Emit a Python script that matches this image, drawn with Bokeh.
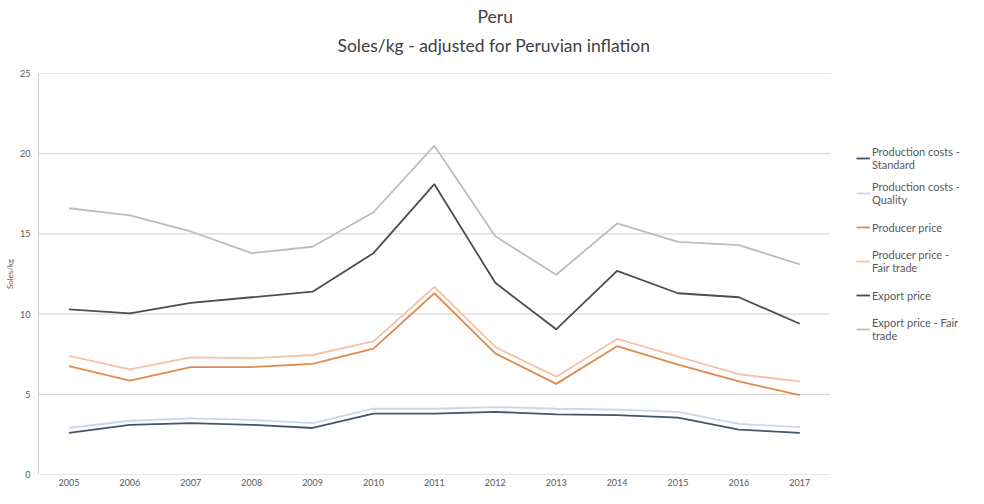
from bokeh.plotting import figure
from bokeh.models import Legend, LegendItem, Title, FixedTicker, Range1d
from bokeh.embed import file_html
from bokeh.resources import INLINE

years = ["2005", "2006", "2007", "2008", "2009", "2010", "2011", "2012", "2013", "2014", "2015", "2016", "2017"]
pc_standard = [2.6, 3.1, 3.2, 3.1, 2.9, 3.8, 3.8, 3.9, 3.75, 3.7, 3.55, 2.8, 2.6]
pc_quality = [2.9, 3.35, 3.5, 3.4, 3.2, 4.1, 4.1, 4.2, 4.1, 4.05, 3.9, 3.15, 2.95]
producer = [6.75, 5.85, 6.7, 6.7, 6.9, 7.85, 11.3, 7.55, 5.65, 8.0, 6.85, 5.8, 4.95]
producer_ft = [7.4, 6.55, 7.3, 7.25, 7.45, 8.3, 11.7, 7.95, 6.1, 8.45, 7.35, 6.25, 5.8]
export = [10.3, 10.05, 10.7, 11.05, 11.4, 13.8, 18.1, 11.95, 9.05, 12.7, 11.3, 11.05, 9.4]
export_ft = [16.6, 16.15, 15.15, 13.8, 14.2, 16.35, 20.5, 14.85, 12.45, 15.65, 14.5, 14.3, 13.1]
y_ticks = [0, 5, 10, 15, 20, 25]

series_names = ["Production costs -\nStandard", "Production costs -\nQuality", "Producer price",
                "Producer price -\nFair trade", "Export price", "Export price - Fair\ntrade"]
series_values = [pc_standard, pc_quality, producer, producer_ft, export, export_ft]
series_colors = ["#44546A", "#C9D6EC", "#E08A4E", "#F6C2A4", "#4D4D4D", "#BDBDBD"]

FONT = "Lato"
TXT = "#595959"
GRID = "#D0D0D0"

xpos = list(range(len(years)))
x_lo = -0.5
x_hi = len(years) - 0.5

p = figure(width=968, height=488, x_range=Range1d(x_lo, 14.77),
           y_range=Range1d(0, 25), output_backend="svg", toolbar_location=None,
           min_border_left=38, min_border_right=0, min_border_top=0, min_border_bottom=0)

p.title.text = "Peru"
p.title.text_font = FONT
p.title.text_font_size = "17.5px"
p.title.text_font_style = "normal"
p.title.text_color = "#404040"
p.title.align = "left"
p.title.offset = 439
p.title.standoff = 7
# small blank spacer between the subtitle and the plot area (nearest the frame)
p.add_layout(Title(text=" ", text_font=FONT, text_font_size="1px", standoff=12), "above")
p.add_layout(Title(text="Soles/kg - adjusted for Peruvian inflation", text_font=FONT,
                   text_font_size="17.5px", text_font_style="normal",
                   text_color="#404040", align="left", offset=299, standoff=5), "above")

# horizontal gridlines limited to the category area
p.segment(x0=[x_lo] * len(y_ticks), x1=[x_hi] * len(y_ticks), y0=y_ticks, y1=y_ticks,
          line_color=GRID, line_width=1)

items = []
for name, vals, col in zip(series_names, series_values, series_colors):
    r = p.line(xpos, vals, line_color=col, line_width=1.8)
    items.append(LegendItem(label=name, renderers=[r]))

legend = Legend(items=items, location=(818, 132), orientation="vertical",
                label_text_font=FONT, label_text_font_size="11px", label_text_color=TXT,
                label_height=24, glyph_height=24, glyph_width=14, label_standoff=2,
                spacing=9, padding=0, margin=0, border_line_color=None,
                background_fill_alpha=0)
p.add_layout(legend, "center")

p.xgrid.grid_line_color = None
p.ygrid.grid_line_color = None
p.yaxis.ticker = FixedTicker(ticks=y_ticks)
p.xaxis.ticker = FixedTicker(ticks=xpos)
p.xaxis.major_label_overrides = {i: y for i, y in zip(xpos, years)}

for ax in (p.xaxis[0], p.yaxis[0]):
    ax.major_tick_line_color = None
    ax.minor_tick_line_color = None
    ax.major_tick_out = 0
    ax.major_tick_in = 0
    ax.major_label_text_font = FONT
    ax.major_label_text_font_size = "9px"
    ax.major_label_text_color = TXT
p.xaxis.axis_line_color = None
p.yaxis.axis_line_color = GRID
p.xaxis.major_label_standoff = 4
p.xaxis.major_label_text_line_height = 0.8
p.yaxis.major_label_standoff = 8
p.yaxis.axis_label = "Soles/kg"
p.yaxis.axis_label_text_font = FONT
p.yaxis.axis_label_text_font_size = "8px"
p.yaxis.axis_label_text_font_style = "normal"
p.yaxis.axis_label_text_color = TXT
p.yaxis.axis_label_standoff = 2
p.outline_line_color = None

open("out.html", "w").write(file_html(p, INLINE))
